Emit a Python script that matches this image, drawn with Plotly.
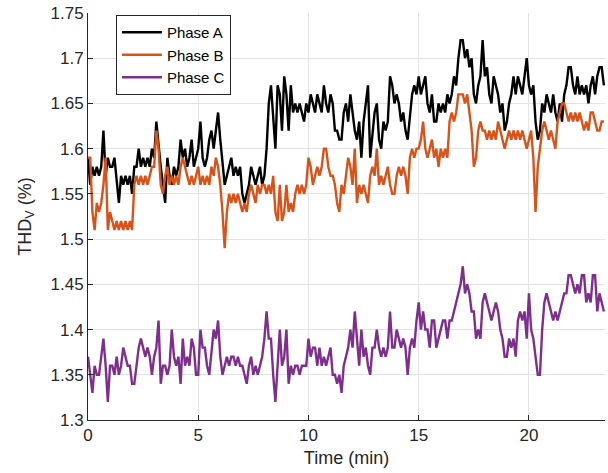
import numpy as np
import plotly.graph_objects as go

# Sampling interval of the recorded series (minutes)
sample_interval_min = 0.1

phase_a = [
    1.59, 1.56, 1.58, 1.57, 1.58, 1.57, 1.58, 1.62, 1.57, 1.59,
    1.58, 1.58, 1.59, 1.56, 1.54, 1.57, 1.56, 1.57, 1.56, 1.57,
    1.55, 1.58, 1.58, 1.60, 1.58, 1.59, 1.58, 1.59, 1.58, 1.60,
    1.59, 1.63, 1.60, 1.58, 1.56, 1.54, 1.59, 1.57, 1.56, 1.58,
    1.57, 1.58, 1.61, 1.59, 1.60, 1.58, 1.59, 1.61, 1.58, 1.59,
    1.60, 1.63, 1.59, 1.58, 1.59, 1.61, 1.62, 1.60, 1.62, 1.64,
    1.61, 1.58, 1.56, 1.57, 1.58, 1.59, 1.57, 1.58, 1.57, 1.58,
    1.55, 1.54, 1.55, 1.56, 1.58, 1.57, 1.56, 1.57, 1.58, 1.56,
    1.57, 1.60, 1.65, 1.67, 1.64, 1.60, 1.67, 1.66, 1.62, 1.68,
    1.66, 1.62, 1.67, 1.64, 1.65, 1.64, 1.65, 1.64, 1.63, 1.65,
    1.64, 1.66, 1.65, 1.64, 1.66, 1.65, 1.64, 1.67, 1.65, 1.64,
    1.66, 1.65, 1.62, 1.62, 1.61, 1.61, 1.64, 1.65, 1.63, 1.66,
    1.64, 1.62, 1.61, 1.63, 1.59, 1.63, 1.65, 1.67, 1.59, 1.62,
    1.64, 1.65, 1.61, 1.60, 1.63, 1.62, 1.63, 1.68, 1.67, 1.65,
    1.66, 1.65, 1.63, 1.64, 1.62, 1.61, 1.64, 1.66, 1.67, 1.66,
    1.68, 1.66, 1.67, 1.68, 1.65, 1.64, 1.66, 1.63, 1.63, 1.65,
    1.64, 1.65, 1.64, 1.66, 1.65, 1.66, 1.68, 1.67, 1.70, 1.72,
    1.72, 1.70, 1.71, 1.69, 1.70, 1.66, 1.65, 1.67, 1.68, 1.72,
    1.68, 1.69, 1.66, 1.65, 1.68, 1.67, 1.66, 1.64, 1.65, 1.62,
    1.63, 1.65, 1.66, 1.68, 1.66, 1.68, 1.67, 1.66, 1.68, 1.70,
    1.67, 1.66, 1.67, 1.63, 1.61, 1.62, 1.65, 1.64, 1.66, 1.65,
    1.64, 1.66, 1.64, 1.63, 1.65, 1.63, 1.66, 1.67, 1.69, 1.69,
    1.67, 1.66, 1.68, 1.66, 1.67, 1.66, 1.67, 1.65, 1.67, 1.68,
    1.66, 1.68, 1.69, 1.69, 1.67,
]

phase_b = [
    1.59, 1.59, 1.53, 1.51, 1.54, 1.53, 1.54, 1.56, 1.59, 1.51,
    1.53, 1.52, 1.51, 1.52, 1.51, 1.52, 1.51, 1.52, 1.51, 1.52,
    1.51, 1.56, 1.57, 1.56, 1.57, 1.56, 1.57, 1.56, 1.57, 1.58,
    1.58, 1.62, 1.60, 1.56, 1.55, 1.57, 1.58, 1.56, 1.57, 1.56,
    1.57, 1.56, 1.58, 1.59, 1.58, 1.57, 1.56, 1.57, 1.56, 1.57,
    1.58, 1.56, 1.57, 1.56, 1.57, 1.56, 1.58, 1.57, 1.59, 1.58,
    1.56, 1.53, 1.49, 1.53, 1.55, 1.54, 1.55, 1.54, 1.55, 1.54,
    1.53, 1.54, 1.53, 1.55, 1.56, 1.55, 1.54, 1.56, 1.55, 1.56,
    1.56, 1.55, 1.56, 1.55, 1.57, 1.53, 1.52, 1.56, 1.52, 1.53,
    1.56, 1.53, 1.54, 1.53, 1.55, 1.56, 1.55, 1.56, 1.55, 1.56,
    1.59, 1.58, 1.56, 1.57, 1.58, 1.57, 1.58, 1.60, 1.60, 1.58,
    1.57, 1.57, 1.56, 1.54, 1.53, 1.56, 1.55, 1.57, 1.59, 1.58,
    1.56, 1.60, 1.54, 1.56, 1.55, 1.56, 1.55, 1.54, 1.57, 1.58,
    1.57, 1.60, 1.56, 1.57, 1.56, 1.57, 1.58, 1.56, 1.55, 1.55,
    1.57, 1.58, 1.57, 1.58, 1.57, 1.55, 1.59, 1.60, 1.59, 1.60,
    1.60, 1.61, 1.63, 1.60, 1.59, 1.60, 1.61, 1.59, 1.60, 1.58,
    1.60, 1.59, 1.60, 1.59, 1.63, 1.64, 1.63, 1.64, 1.66, 1.66,
    1.66, 1.65, 1.66, 1.64, 1.62, 1.58, 1.59, 1.62, 1.63, 1.62,
    1.62, 1.61, 1.62, 1.61, 1.62, 1.61, 1.63, 1.62, 1.61, 1.60,
    1.61, 1.62, 1.61, 1.62, 1.61, 1.62, 1.61, 1.62, 1.61, 1.60,
    1.61, 1.62, 1.59, 1.53, 1.58, 1.60, 1.62, 1.63, 1.62, 1.61,
    1.62, 1.61, 1.60, 1.63, 1.64, 1.65, 1.65, 1.64, 1.63, 1.64,
    1.63, 1.64, 1.63, 1.64, 1.63, 1.62, 1.63, 1.62, 1.64, 1.64,
    1.63, 1.62, 1.62, 1.63, 1.63,
]

phase_c = [
    1.37, 1.35, 1.33, 1.36, 1.35, 1.35, 1.37, 1.39, 1.36, 1.32,
    1.36, 1.36, 1.35, 1.37, 1.35, 1.36, 1.38, 1.37, 1.36, 1.36,
    1.34, 1.34, 1.36, 1.38, 1.39, 1.38, 1.37, 1.38, 1.37, 1.35,
    1.37, 1.38, 1.41, 1.34, 1.36, 1.36, 1.35, 1.36, 1.40, 1.37,
    1.36, 1.37, 1.34, 1.39, 1.36, 1.37, 1.36, 1.39, 1.38, 1.35,
    1.35, 1.40, 1.38, 1.38, 1.36, 1.35, 1.38, 1.40, 1.39, 1.41,
    1.37, 1.35, 1.36, 1.37, 1.36, 1.37, 1.37, 1.36, 1.37, 1.36,
    1.36, 1.35, 1.34, 1.36, 1.37, 1.35, 1.36, 1.35, 1.36, 1.37,
    1.39, 1.42, 1.39, 1.39, 1.35, 1.32, 1.36, 1.40, 1.36, 1.37,
    1.40, 1.34, 1.36, 1.35, 1.36, 1.36, 1.35, 1.36, 1.36, 1.36,
    1.39, 1.37, 1.38, 1.38, 1.36, 1.38, 1.36, 1.37, 1.36, 1.37,
    1.38, 1.35, 1.35, 1.34, 1.35, 1.33, 1.36, 1.37, 1.38, 1.40,
    1.38, 1.42, 1.39, 1.36, 1.40, 1.37, 1.38, 1.36, 1.35, 1.38,
    1.38, 1.40, 1.38, 1.37, 1.38, 1.37, 1.38, 1.42, 1.38, 1.38,
    1.40, 1.39, 1.38, 1.39, 1.38, 1.35, 1.38, 1.39, 1.38, 1.41,
    1.43, 1.40, 1.42, 1.40, 1.40, 1.38, 1.41, 1.41, 1.38, 1.39,
    1.40, 1.41, 1.41, 1.39, 1.41, 1.41, 1.42, 1.43, 1.44, 1.45,
    1.47, 1.44, 1.45, 1.44, 1.42, 1.42, 1.39, 1.40, 1.39, 1.43,
    1.44, 1.43, 1.42, 1.41, 1.42, 1.43, 1.42, 1.40, 1.39, 1.37,
    1.37, 1.39, 1.38, 1.39, 1.37, 1.41, 1.42, 1.41, 1.42, 1.39,
    1.44, 1.40, 1.39, 1.37, 1.35, 1.35, 1.40, 1.43, 1.44, 1.43,
    1.42, 1.41, 1.42, 1.41, 1.42, 1.43, 1.44, 1.44, 1.46, 1.46,
    1.45, 1.44, 1.45, 1.44, 1.46, 1.46, 1.43, 1.44, 1.43, 1.46,
    1.46, 1.42, 1.44, 1.43, 1.42,
]

series_names = ["Phase A", "Phase B", "Phase C"]
series_colors = ["#000000", "#D95319", "#7E2F8E"]

x_tick_vals = [0, 5, 10, 15, 20]
y_tick_vals = [1.3, 1.35, 1.4, 1.45, 1.5, 1.55, 1.6, 1.65, 1.7, 1.75]
y_tick_text = ["1.3", "1.35", "1.4", "1.45", "1.5", "1.55", "1.6", "1.65", "1.7", "1.75"]

time_min = np.arange(len(phase_a)) * sample_interval_min

fig = go.Figure()
for name, vals, col in zip(series_names, [phase_a, phase_b, phase_c], series_colors):
    fig.add_trace(go.Scatter(
        x=time_min, y=vals, mode="lines", name=name,
        line=dict(color=col, width=2.4),
    ))

font_family = "Liberation Sans, Arial, Helvetica, sans-serif"
axis_col = "#262626"
grid_col = "#e3e3e3"

fig.update_layout(
    width=608, height=473,
    margin=dict(l=88, r=3, t=13, b=53),
    paper_bgcolor="white", plot_bgcolor="white",
    font=dict(family=font_family, size=16, color=axis_col),
    showlegend=True,
    legend=dict(
        x=0.054, y=0.995, xanchor="left", yanchor="top",
        bgcolor="white", bordercolor=axis_col, borderwidth=1,
        font=dict(size=15, color="#000000"),
        tracegroupgap=0, itemwidth=40,
    ),
)
fig.update_xaxes(
    range=[0, 23.45], tickvals=x_tick_vals,
    showgrid=True, gridcolor=grid_col, gridwidth=1,
    showline=True, linecolor=axis_col, linewidth=1, mirror=False,
    ticks="inside", ticklen=5, tickcolor=axis_col,
    tickfont=dict(size=17), zeroline=False,
    title=dict(text="Time (min)", font=dict(size=18), standoff=6),
)
fig.update_yaxes(
    range=[1.3, 1.75], tickvals=y_tick_vals, ticktext=y_tick_text,
    showgrid=True, gridcolor=grid_col, gridwidth=1,
    showline=True, linecolor=axis_col, linewidth=1, mirror=False,
    ticks="inside", ticklen=5, tickcolor=axis_col,
    tickfont=dict(size=17), zeroline=False,
    title=dict(text="THD<sub>V</sub> (%)", font=dict(size=18), standoff=14),
)

fig.write_html("out.html")
